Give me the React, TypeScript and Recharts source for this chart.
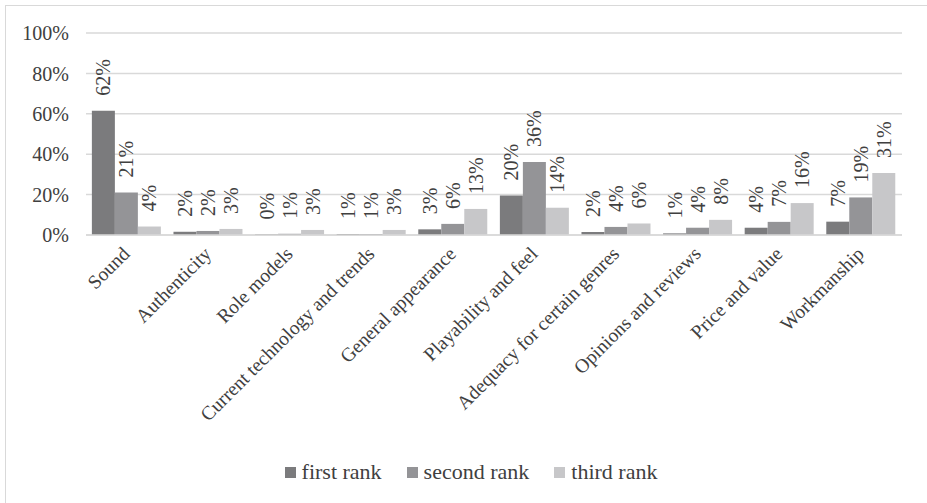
import { BarChart, Bar, XAxis, YAxis, CartesianGrid, Legend, LabelList } from 'recharts';

const categories = [
  'Sound',
  'Authenticity',
  'Role models',
  'Current technology and trends',
  'General appearance',
  'Playability and feel',
  'Adequacy for certain genres',
  'Opinions and reviews',
  'Price and value',
  'Workmanship',
];
const firstRank = [61.5, 1.6, 0.3, 0.5, 2.8, 19.6, 1.5, 0.8, 3.6, 6.6];
const secondRank = [21.1, 2.0, 0.6, 0.5, 5.5, 36.2, 4.0, 3.6, 6.5, 18.6];
const thirdRank = [4.2, 3.0, 2.5, 2.5, 12.9, 13.5, 5.7, 7.5, 15.8, 30.7];
const yTicks = [0, 20, 40, 60, 80, 100];

const SERIES = [
  { key: 'first', name: 'first rank', color: '#7b7b7d' },
  { key: 'second', name: 'second rank', color: '#949497' },
  { key: 'third', name: 'third rank', color: '#c7c7c9' },
];

const FONT = '"Liberation Serif", "Times New Roman", serif';
const TEXT = '#404040';

const data = categories.map((name, i) => ({
  name,
  first: firstRank[i],
  second: secondRank[i],
  third: thirdRank[i],
}));

function BarValue(props: any) {
  const { x, y, width, value } = props;
  const cx = x + width / 2;
  const cy = y - 15;
  return (
    <text
      x={cx}
      y={cy}
      transform={`rotate(-90, ${cx}, ${cy})`}
      textAnchor="start"
      dominantBaseline="central"
      fontFamily={FONT}
      fontSize={20}
      fill={TEXT}
    >
      {`${Math.round(value)}%`}
    </text>
  );
}

function CategoryTick(props: any) {
  const { x, y, payload } = props;
  const tx = x + 4;
  const ty = y + 12;
  return (
    <text
      x={tx}
      y={ty}
      transform={`rotate(-45, ${tx}, ${ty})`}
      textAnchor="end"
      fontFamily={FONT}
      fontSize={19.5}
      fill={TEXT}
    >
      {payload.value}
    </text>
  );
}

function RankLegend() {
  return (
    <div style={{ display: 'flex', justifyContent: 'center', gap: 25, paddingLeft: 40, fontFamily: FONT, fontSize: 22, color: TEXT, height: 40, alignItems: 'center' }}>
      {SERIES.map(s => (
        <span key={s.key} style={{ display: 'flex', alignItems: 'center' }}>
          <span style={{ display: 'inline-block', width: 11, height: 11, background: s.color, marginRight: 6 }} />
          {s.name}
        </span>
      ))}
    </div>
  );
}

export default function App() {
  return (
    <div style={{ position: 'fixed', left: 0, top: 0, width: 927, height: 503, background: '#fff', overflow: 'hidden' }}>
      <div style={{ position: 'absolute', left: 5, top: 5, width: 940, height: 520, border: '1px solid #d9d9d9' }} />
      <div style={{ position: 'absolute', left: 0, top: 0 }}>
        <BarChart
          width={927}
          height={503}
          data={data}
          margin={{ top: 33, right: 25, bottom: 11, left: 0 }}
          barCategoryGap="7.2%"
          barGap={0}
        >
          <CartesianGrid vertical={false} stroke="#d9d9d9" strokeWidth={1.5} />
          <XAxis
            dataKey="name"
            interval={0}
            tickLine={false}
            axisLine={{ stroke: '#d9d9d9', strokeWidth: 1.5 }}
            height={217}
            tick={<CategoryTick />}
          />
          <YAxis
            domain={[0, 100]}
            ticks={yTicks}
            width={86}
            tickLine={false}
            axisLine={false}
            tickFormatter={(v: number) => `${v}%`}
            tick={{ fontFamily: FONT, fontSize: 20, fill: TEXT }}
            tickMargin={11}
          />
          <Legend verticalAlign="bottom" content={<RankLegend />} />
          {SERIES.map(s => (
            <Bar key={s.key} dataKey={s.key} name={s.name} fill={s.color} isAnimationActive={false}>
              <LabelList dataKey={s.key} content={<BarValue />} />
            </Bar>
          ))}
        </BarChart>
      </div>
    </div>
  );
}
